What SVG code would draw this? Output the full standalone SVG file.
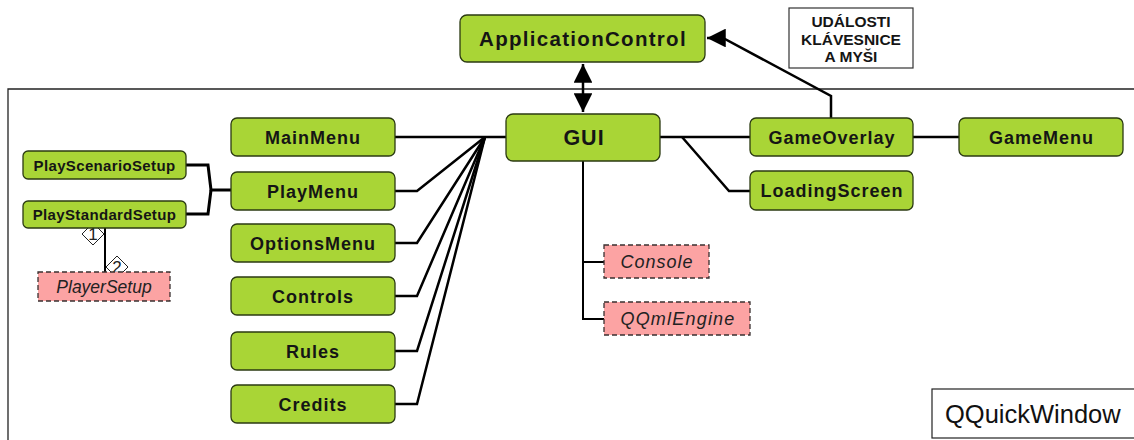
<svg xmlns="http://www.w3.org/2000/svg" width="1134" height="440" viewBox="0 0 1134 440">
  <defs>
    <style>
      .node { fill: #a9d536; stroke: #2b3a12; stroke-width: 1.3; }
      .ext { fill: #fca3a3; stroke: #3a3030; stroke-width: 1.3; stroke-dasharray: 5 3; }
      .lbl { font-family: "Liberation Sans", Arial, sans-serif; font-weight: bold; fill: #151515; text-anchor: middle; }
      .mid { font-size: 18px; letter-spacing: 1px; }
      .small { font-size: 15px; letter-spacing: 0.35px; }
      .ital { font-family: "Liberation Sans", Arial, sans-serif; font-style: italic; fill: #222; text-anchor: middle; }
      .wire { fill: none; stroke: #000; stroke-width: 2.5; stroke-linejoin: miter; }
      .thin { fill: none; stroke: #000; stroke-width: 2; }
      .dia { fill: #fff; stroke: #222; stroke-width: 1; }
      .num { font-family: "Liberation Sans", Arial, sans-serif; font-size: 17px; fill: #222; text-anchor: middle; }
    </style>
    <marker id="head" viewBox="0 0 10 10" refX="10" refY="5" markerWidth="7.5" markerHeight="7.5" markerUnits="strokeWidth" orient="auto-start-reverse">
      <path d="M0,0 L10,5 L0,10 z" fill="#000"/>
    </marker>
  </defs>

  <rect width="1134" height="440" fill="#fff"/>

  <!-- window frame -->
  <g id="frame">
    <path d="M8,445 L8,89 L1140,89" fill="none" stroke="#222" stroke-width="1.3"/>
  </g>

  <!-- connectors -->
  <g id="connectors">
    <line class="wire" x1="583" y1="64" x2="583" y2="112" marker-start="url(#head)" marker-end="url(#head)"/>
    <polyline class="wire" points="831,118 831,96 723,38 707,38" marker-end="url(#head)"/>
    <line class="wire" x1="395" y1="137" x2="506" y2="137"/>
    <polyline class="wire" points="395,191 417,191 485,137"/>
    <polyline class="wire" points="395,243 417,243 485,137"/>
    <polyline class="wire" points="395,296 417,296 485,137"/>
    <polyline class="wire" points="395,351 417,351 485,137"/>
    <polyline class="wire" points="395,404 417,404 485,137"/>
    <line class="wire" x1="660" y1="137" x2="750" y2="137"/>
    <polyline class="wire" points="682,137 729,191 750,191"/>
    <line class="wire" x1="913" y1="137" x2="959" y2="137"/>
    <polyline class="thin" points="583,161 583,319 604,319"/>
    <line class="thin" x1="583" y1="262" x2="604" y2="262"/>
    <polyline class="wire" style="stroke-width:3" points="186,165 208,165 211,190 231,190"/>
    <polyline class="wire" style="stroke-width:3" points="186,214 208,214 211,190"/>
    <line class="thin" x1="105" y1="228" x2="105" y2="272"/>
    <polygon class="dia" points="93,223 104,234 93,245 82,234"/>
    <text class="num" x="93" y="240">1</text>
    <polygon class="dia" points="117,256 128,267 117,278 106,267"/>
    <text class="num" x="117" y="273">2</text>
  </g>

  <g id="ApplicationControl">
    <rect class="node" x="460" y="15" width="245" height="47" rx="7"/>
    <text class="lbl" x="583" y="46" font-size="20.5" letter-spacing="1.3">ApplicationControl</text>
  </g>

  <g id="events">
    <rect x="789" y="8" width="124" height="60" fill="#fff" stroke="#333" stroke-width="1.2"/>
    <text class="lbl" x="851" y="27" font-size="15.5">UDÁLOSTI</text>
    <text class="lbl" x="851" y="45" font-size="15.5">KLÁVESNICE</text>
    <text class="lbl" x="851" y="62" font-size="15.5">A MYŠI</text>
  </g>

  <g id="GUI">
    <rect class="node" x="506" y="114" width="154" height="47" rx="7"/>
    <text class="lbl" x="584" y="145" font-size="21.5" letter-spacing="1">GUI</text>
  </g>

  <g id="MainMenu">
    <rect class="node" x="231" y="118" width="164" height="38" rx="6"/>
    <text class="lbl mid" x="313" y="144">MainMenu</text>
  </g>
  <g id="PlayMenu">
    <rect class="node" x="231" y="172" width="164" height="38" rx="6"/>
    <text class="lbl mid" x="313" y="198">PlayMenu</text>
  </g>
  <g id="OptionsMenu">
    <rect class="node" x="231" y="224" width="164" height="38" rx="6"/>
    <text class="lbl mid" x="313" y="250">OptionsMenu</text>
  </g>
  <g id="Controls">
    <rect class="node" x="231" y="277" width="164" height="38" rx="6"/>
    <text class="lbl mid" x="313" y="303">Controls</text>
  </g>
  <g id="Rules">
    <rect class="node" x="231" y="332" width="164" height="38" rx="6"/>
    <text class="lbl mid" x="313" y="358">Rules</text>
  </g>
  <g id="Credits">
    <rect class="node" x="231" y="385" width="164" height="38" rx="6"/>
    <text class="lbl mid" x="313" y="411">Credits</text>
  </g>

  <g id="PlayScenarioSetup">
    <rect class="node" x="23" y="151" width="163" height="28" rx="5"/>
    <text class="lbl small" x="104.5" y="170.5">PlayScenarioSetup</text>
  </g>
  <g id="PlayStandardSetup">
    <rect class="node" x="23" y="201" width="163" height="27" rx="5"/>
    <text class="lbl small" x="104.5" y="220">PlayStandardSetup</text>
  </g>
  <g id="PlayerSetup">
    <rect class="ext" x="38" y="272" width="132" height="29"/>
    <text class="ital" x="104" y="293" font-size="17.5">PlayerSetup</text>
  </g>

  <g id="Console">
    <rect class="ext" x="604" y="245" width="105" height="33"/>
    <text class="ital" x="657" y="268" font-size="18" letter-spacing="1">Console</text>
  </g>
  <g id="QQmlEngine">
    <rect class="ext" x="604" y="302" width="146" height="33"/>
    <text class="ital" x="678" y="325" font-size="18" letter-spacing="1.2">QQmlEngine</text>
  </g>

  <g id="GameOverlay">
    <rect class="node" x="750" y="118" width="163" height="38" rx="6"/>
    <text class="lbl mid" x="832" y="144">GameOverlay</text>
  </g>
  <g id="LoadingScreen">
    <rect class="node" x="750" y="171" width="163" height="39" rx="6"/>
    <text class="lbl mid" x="832" y="197">LoadingScreen</text>
  </g>
  <g id="GameMenu">
    <rect class="node" x="959" y="118" width="164" height="38" rx="6"/>
    <text class="lbl mid" x="1041.5" y="144">GameMenu</text>
  </g>

  <g id="QQuickWindow">
    <rect x="932" y="389" width="210" height="49" fill="#fff" stroke="#222" stroke-width="1.2"/>
    <text x="945" y="423" font-family="Liberation Sans, Arial, sans-serif" font-size="25.5" fill="#111">QQuickWindow</text>
  </g>
</svg>
